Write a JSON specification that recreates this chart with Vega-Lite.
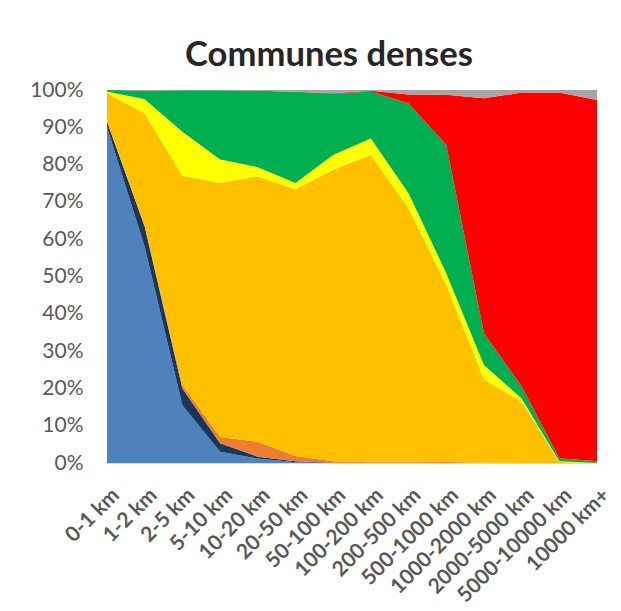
{
  "$schema": "https://vega.github.io/schema/vega-lite/v6.json",
  "autosize": {"type": "none"},
  "width": 490,
  "height": 373,
  "padding": {"left": 107, "top": 90, "right": 24, "bottom": 148},
  "background": "white",
  "title": {
    "text": "Communes denses",
    "font": "Lato",
    "fontSize": 34.6,
    "fontWeight": "bold",
    "color": "#262626",
    "anchor": "middle",
    "offset": 5,
    "dx": -23
  },
  "config": {
    "view": {"stroke": null},
    "axis": {"labelFont": "Lato", "labelColor": "#595959", "titleFont": "Lato"}
  },
  "data": {
    "values": [
      {"d": "0-1 km", "m": "Marche", "k": 1, "v": 90},
      {"d": "0-1 km", "m": "Deux-roues", "k": 2, "v": 1.5},
      {"d": "0-1 km", "m": "Vélo", "k": 3, "v": 0.1},
      {"d": "0-1 km", "m": "Voiture", "k": 4, "v": 7.5},
      {"d": "0-1 km", "m": "Bus", "k": 5, "v": 0.5},
      {"d": "0-1 km", "m": "Train", "k": 6, "v": 0.4},
      {"d": "0-1 km", "m": "Avion", "k": 7, "v": 0},
      {"d": "0-1 km", "m": "Autre", "k": 8, "v": 0},

      {"d": "1-2 km", "m": "Marche", "k": 1, "v": 58},
      {"d": "1-2 km", "m": "Deux-roues", "k": 2, "v": 5.4},
      {"d": "1-2 km", "m": "Vélo", "k": 3, "v": 0.1},
      {"d": "1-2 km", "m": "Voiture", "k": 4, "v": 30.2},
      {"d": "1-2 km", "m": "Bus", "k": 5, "v": 3.8},
      {"d": "1-2 km", "m": "Train", "k": 6, "v": 2.3},
      {"d": "1-2 km", "m": "Avion", "k": 7, "v": 0},
      {"d": "1-2 km", "m": "Autre", "k": 8, "v": 0.2},

      {"d": "2-5 km", "m": "Marche", "k": 1, "v": 15.5},
      {"d": "2-5 km", "m": "Deux-roues", "k": 2, "v": 4.5},
      {"d": "2-5 km", "m": "Vélo", "k": 3, "v": 0.9},
      {"d": "2-5 km", "m": "Voiture", "k": 4, "v": 56.1},
      {"d": "2-5 km", "m": "Bus", "k": 5, "v": 11.8},
      {"d": "2-5 km", "m": "Train", "k": 6, "v": 11.1},
      {"d": "2-5 km", "m": "Avion", "k": 7, "v": 0},
      {"d": "2-5 km", "m": "Autre", "k": 8, "v": 0.1},

      {"d": "5-10 km", "m": "Marche", "k": 1, "v": 3},
      {"d": "5-10 km", "m": "Deux-roues", "k": 2, "v": 2.3},
      {"d": "5-10 km", "m": "Vélo", "k": 3, "v": 1.7},
      {"d": "5-10 km", "m": "Voiture", "k": 4, "v": 68.1},
      {"d": "5-10 km", "m": "Bus", "k": 5, "v": 6.3},
      {"d": "5-10 km", "m": "Train", "k": 6, "v": 18.5},
      {"d": "5-10 km", "m": "Avion", "k": 7, "v": 0},
      {"d": "5-10 km", "m": "Autre", "k": 8, "v": 0.1},

      {"d": "10-20 km", "m": "Marche", "k": 1, "v": 1.2},
      {"d": "10-20 km", "m": "Deux-roues", "k": 2, "v": 0.5},
      {"d": "10-20 km", "m": "Vélo", "k": 3, "v": 4.0},
      {"d": "10-20 km", "m": "Voiture", "k": 4, "v": 71.1},
      {"d": "10-20 km", "m": "Bus", "k": 5, "v": 2.5},
      {"d": "10-20 km", "m": "Train", "k": 6, "v": 20.5},
      {"d": "10-20 km", "m": "Avion", "k": 7, "v": 0},
      {"d": "10-20 km", "m": "Autre", "k": 8, "v": 0.2},

      {"d": "20-50 km", "m": "Marche", "k": 1, "v": 0.2},
      {"d": "20-50 km", "m": "Deux-roues", "k": 2, "v": 0.3},
      {"d": "20-50 km", "m": "Vélo", "k": 3, "v": 1.4},
      {"d": "20-50 km", "m": "Voiture", "k": 4, "v": 71.5},
      {"d": "20-50 km", "m": "Bus", "k": 5, "v": 1.7},
      {"d": "20-50 km", "m": "Train", "k": 6, "v": 24.4},
      {"d": "20-50 km", "m": "Avion", "k": 7, "v": 0},
      {"d": "20-50 km", "m": "Autre", "k": 8, "v": 0.5},

      {"d": "50-100 km", "m": "Marche", "k": 1, "v": 0},
      {"d": "50-100 km", "m": "Deux-roues", "k": 2, "v": 0.1},
      {"d": "50-100 km", "m": "Vélo", "k": 3, "v": 0.4},
      {"d": "50-100 km", "m": "Voiture", "k": 4, "v": 78.1},
      {"d": "50-100 km", "m": "Bus", "k": 5, "v": 4.0},
      {"d": "50-100 km", "m": "Train", "k": 6, "v": 16.4},
      {"d": "50-100 km", "m": "Avion", "k": 7, "v": 0.1},
      {"d": "50-100 km", "m": "Autre", "k": 8, "v": 0.9},

      {"d": "100-200 km", "m": "Marche", "k": 1, "v": 0},
      {"d": "100-200 km", "m": "Deux-roues", "k": 2, "v": 0},
      {"d": "100-200 km", "m": "Vélo", "k": 3, "v": 0.2},
      {"d": "100-200 km", "m": "Voiture", "k": 4, "v": 82.4},
      {"d": "100-200 km", "m": "Bus", "k": 5, "v": 4.4},
      {"d": "100-200 km", "m": "Train", "k": 6, "v": 12.6},
      {"d": "100-200 km", "m": "Avion", "k": 7, "v": 0.2},
      {"d": "100-200 km", "m": "Autre", "k": 8, "v": 0.2},

      {"d": "200-500 km", "m": "Marche", "k": 1, "v": 0},
      {"d": "200-500 km", "m": "Deux-roues", "k": 2, "v": 0},
      {"d": "200-500 km", "m": "Vélo", "k": 3, "v": 0.2},
      {"d": "200-500 km", "m": "Voiture", "k": 4, "v": 68.1},
      {"d": "200-500 km", "m": "Bus", "k": 5, "v": 4.0},
      {"d": "200-500 km", "m": "Train", "k": 6, "v": 24.1},
      {"d": "200-500 km", "m": "Avion", "k": 7, "v": 2.4},
      {"d": "200-500 km", "m": "Autre", "k": 8, "v": 1.2},

      {"d": "500-1000 km", "m": "Marche", "k": 1, "v": 0},
      {"d": "500-1000 km", "m": "Deux-roues", "k": 2, "v": 0},
      {"d": "500-1000 km", "m": "Vélo", "k": 3, "v": 0.3},
      {"d": "500-1000 km", "m": "Voiture", "k": 4, "v": 47.4},
      {"d": "500-1000 km", "m": "Bus", "k": 5, "v": 3.2},
      {"d": "500-1000 km", "m": "Train", "k": 6, "v": 34.4},
      {"d": "500-1000 km", "m": "Avion", "k": 7, "v": 13.4},
      {"d": "500-1000 km", "m": "Autre", "k": 8, "v": 1.3},

      {"d": "1000-2000 km", "m": "Marche", "k": 1, "v": 0},
      {"d": "1000-2000 km", "m": "Deux-roues", "k": 2, "v": 0},
      {"d": "1000-2000 km", "m": "Vélo", "k": 3, "v": 0.1},
      {"d": "1000-2000 km", "m": "Voiture", "k": 4, "v": 22.3},
      {"d": "1000-2000 km", "m": "Bus", "k": 5, "v": 3.9},
      {"d": "1000-2000 km", "m": "Train", "k": 6, "v": 8.5},
      {"d": "1000-2000 km", "m": "Avion", "k": 7, "v": 63.0},
      {"d": "1000-2000 km", "m": "Autre", "k": 8, "v": 2.2},

      {"d": "2000-5000 km", "m": "Marche", "k": 1, "v": 0},
      {"d": "2000-5000 km", "m": "Deux-roues", "k": 2, "v": 0},
      {"d": "2000-5000 km", "m": "Vélo", "k": 3, "v": 0},
      {"d": "2000-5000 km", "m": "Voiture", "k": 4, "v": 16.4},
      {"d": "2000-5000 km", "m": "Bus", "k": 5, "v": 0.9},
      {"d": "2000-5000 km", "m": "Train", "k": 6, "v": 3.2},
      {"d": "2000-5000 km", "m": "Avion", "k": 7, "v": 78.8},
      {"d": "2000-5000 km", "m": "Autre", "k": 8, "v": 0.7},

      {"d": "5000-10000 km", "m": "Marche", "k": 1, "v": 0},
      {"d": "5000-10000 km", "m": "Deux-roues", "k": 2, "v": 0},
      {"d": "5000-10000 km", "m": "Vélo", "k": 3, "v": 0},
      {"d": "5000-10000 km", "m": "Voiture", "k": 4, "v": 0.3},
      {"d": "5000-10000 km", "m": "Bus", "k": 5, "v": 0.2},
      {"d": "5000-10000 km", "m": "Train", "k": 6, "v": 0.8},
      {"d": "5000-10000 km", "m": "Avion", "k": 7, "v": 98.0},
      {"d": "5000-10000 km", "m": "Autre", "k": 8, "v": 0.7},

      {"d": "10000 km+", "m": "Marche", "k": 1, "v": 0},
      {"d": "10000 km+", "m": "Deux-roues", "k": 2, "v": 0},
      {"d": "10000 km+", "m": "Vélo", "k": 3, "v": 0},
      {"d": "10000 km+", "m": "Voiture", "k": 4, "v": 0},
      {"d": "10000 km+", "m": "Bus", "k": 5, "v": 0},
      {"d": "10000 km+", "m": "Train", "k": 6, "v": 0.5},
      {"d": "10000 km+", "m": "Avion", "k": 7, "v": 96.8},
      {"d": "10000 km+", "m": "Autre", "k": 8, "v": 2.7}
    ]
  },
  "mark": {"type": "area", "interpolate": "linear", "strokeWidth": 0},
  "encoding": {
    "x": {
      "field": "d",
      "type": "ordinal",
      "sort": null,
      "scale": {"type": "point", "padding": 0},
      "axis": {
        "title": null,
        "labelAngle": -45,
        "labelAlign": "right",
        "labelBaseline": "top",
        "labelFontSize": 21,
        "labelFontWeight": "bold",
        "labelPadding": 21,
        "labelOffset": 1,
        "ticks": false,
        "domain": true,
        "domainColor": "#D9D9D9",
        "grid": false
      }
    },
    "y": {
      "field": "v",
      "type": "quantitative",
      "stack": "normalize",
      "scale": {"domain": [0, 1], "nice": false},
      "axis": {
        "title": null,
        "format": ".0%",
        "values": [0, 0.1, 0.2, 0.3, 0.4, 0.5, 0.6, 0.7, 0.8, 0.9, 1],
        "labelFontSize": 21,
        "labelPadding": 24,
        "ticks": false,
        "domain": false,
        "grid": true,
        "gridColor": "#D9D9D9"
      }
    },
    "color": {
      "field": "m",
      "type": "nominal",
      "legend": null,
      "scale": {
        "domain": ["Marche", "Deux-roues", "Vélo", "Voiture", "Bus", "Train", "Avion", "Autre"],
        "range": ["#4F81BD", "#17375E", "#ED7D31", "#FFC000", "#FFFF00", "#00B050", "#FF0000", "#A5A5A5"]
      }
    },
    "order": {"field": "k", "type": "quantitative", "sort": "ascending"}
  }
}
